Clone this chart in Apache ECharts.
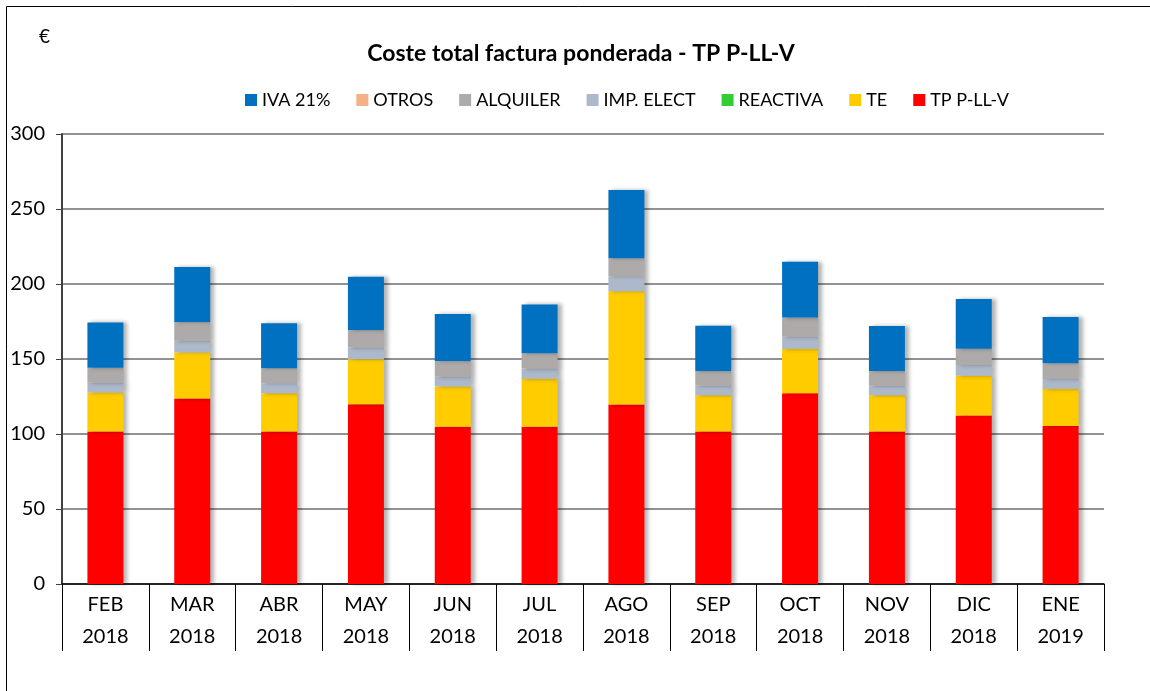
<!DOCTYPE html>
<html>
<head>
<meta charset="utf-8">
<style>
  html, body, #main { margin: 0; width: 1150px; height: 691px; background: #fff; }
</style>
<script src="https://cdn.jsdelivr.net/npm/echarts@6/dist/echarts.min.js"></script>
</head>
<body>
<div id="main"></div>
<script>
// categories (month / year)
var months = ['FEB', 'MAR', 'ABR', 'MAY', 'JUN', 'JUL', 'AGO', 'SEP', 'OCT', 'NOV', 'DIC', 'ENE'];
var years = ['2018', '2018', '2018', '2018', '2018', '2018', '2018', '2018', '2018', '2018', '2018', '2019'];

// series values (€), bottom to top of the stack
var tp = [101.6, 123.6, 101.6, 119.8, 104.9, 104.9, 119.6, 101.6, 127.1, 101.6, 112.4, 105.3];
var te = [26.0, 30.8, 25.5, 30.0, 26.7, 31.8, 75.5, 24.2, 29.6, 24.2, 26.5, 24.7];
var reactiva = [0, 0, 0, 0, 0, 0, 0, 0, 0, 0, 0, 0];
var impElect = [6.6, 7.8, 6.7, 7.8, 6.6, 6.9, 10.0, 6.4, 8.2, 6.4, 7.1, 6.7];
var alquiler = [10.0, 12.5, 10.0, 11.7, 10.5, 10.2, 12.0, 9.8, 12.7, 9.8, 10.9, 10.4];
var otros = [0, 0, 0, 0, 0, 0, 0, 0, 0, 0, 0, 0];
var iva = [30.2, 36.6, 30.0, 35.6, 31.3, 32.6, 45.6, 30.2, 37.3, 30.0, 33.1, 30.9];

var yTicks = [0, 50, 100, 150, 200, 250, 300];

var font = 'Lato, "Open Sans", sans-serif';
var categories = months.map(function (m, i) { return m + '\n' + years[i]; });

function bar(name, data, color) {
  return {
    name: name,
    type: 'bar',
    stack: 'total',
    data: data,
    barWidth: 36,
    itemStyle: {
      color: color,
      shadowBlur: 4,
      shadowOffsetX: 4,
      shadowOffsetY: 0,
      shadowColor: 'rgba(0,0,0,0.3)'
    }
  };
}

var chart = echarts.init(document.getElementById('main'));
chart.setOption({
  animation: false,
  backgroundColor: '#fff',
  title: {
    text: 'Coste total factura ponderada - TP P-LL-V',
    left: 576,
    textAlign: 'center',
    top: 37,
    textStyle: { fontFamily: font, fontSize: 23, fontWeight: 'bold', color: '#000' }
  },
  legend: {
    left: 240,
    top: 86,
    itemWidth: 12,
    itemHeight: 12,
    itemGap: 26,
    icon: 'rect',
    data: ['IVA 21%', 'OTROS', 'ALQUILER', 'IMP. ELECT', 'REACTIVA', 'TE', 'TP P-LL-V'],
    textStyle: { fontFamily: font, fontSize: 18, color: '#000' }
  },
  graphic: [
    {
      type: 'rect',
      shape: { x: 6.5, y: 6.5, width: 1200, height: 700 },
      style: { fill: null, stroke: '#000', lineWidth: 1 },
      silent: true
    },
    {
      type: 'text',
      left: 39,
      top: 27,
      style: { text: '€', font: '19px ' + font, fill: '#000' }
    }
  ],
  grid: { left: 62, right: 46, top: 134, bottom: 107 },
  xAxis: {
    type: 'category',
    data: categories,
    boundaryGap: true,
    axisLine: { lineStyle: { color: '#000', width: 1.5 } },
    axisTick: { show: true, interval: 0, length: 67, lineStyle: { color: '#000', width: 1 } },
    axisLabel: {
      interval: 0,
      margin: 5,
      lineHeight: 32,
      fontFamily: font,
      fontSize: 20,
      color: '#000'
    }
  },
  yAxis: {
    type: 'value',
    min: yTicks[0],
    max: yTicks[yTicks.length - 1],
    interval: 50,
    axisLine: { show: true, lineStyle: { color: '#404040', width: 2 } },
    axisTick: { show: true, length: 6, lineStyle: { color: '#404040' } },
    axisLabel: { margin: 17, fontFamily: font, fontSize: 20, color: '#000' },
    splitLine: { lineStyle: { color: '#6e6e6e', width: 1.5 } }
  },
  series: [
    bar('TP P-LL-V', tp, '#FF0000'),
    bar('TE', te, '#FFCC00'),
    bar('REACTIVA', reactiva, '#33CC33'),
    bar('IMP. ELECT', impElect, '#ADB9CA'),
    bar('ALQUILER', alquiler, '#AEAAAA'),
    bar('OTROS', otros, '#F4B183'),
    bar('IVA 21%', iva, '#0070C0'),
    {
      // right edge of plot area
      type: 'line',
      data: [],
      markLine: {
        silent: true,
        symbol: 'none',
        label: { show: false },
        lineStyle: { color: '#808080', width: 2, type: 'solid' },
        data: [[{ coord: [11.5, 0] }, { coord: [11.5, 300] }]]
      }
    }
  ]
});
</script>
</body>
</html>
